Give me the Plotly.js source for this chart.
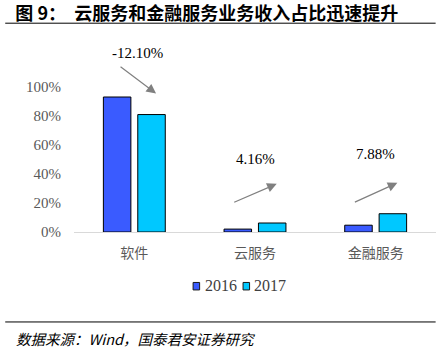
<!DOCTYPE html>
<html>
<head>
<meta charset="utf-8">
<script src="https://cdn.plot.ly/plotly-3.0.1.min.js"></script>
<style>html,body{margin:0;padding:0;background:#fff;}#chart{width:439px;height:355px;}</style>
</head>
<body>
<div id="chart"></div>
<script>
const categories = ['软件', '云服务', '金融服务'];
const series2016 = [93.1, 2.0, 4.7];
const series2017 = [81.0, 6.2, 12.6];
const seriesNames = ['2016', '2017'];
const seriesColors = ['#3A5BFF', '#00C8FF'];
const changeLabels = ['-12.10%', '4.16%', '7.88%'];
const yTicks = [0, 20, 40, 60, 80, 100];

const serif = '"Liberation Serif", "Noto Sans CJK SC", serif';
const cjk = '"Noto Sans CJK SC", sans-serif';

const traces = [
  {type: 'bar', name: seriesNames[0], x: categories, y: series2016, showlegend: false,
   marker: {color: seriesColors[0], line: {color: '#000000', width: 1}}},
  {type: 'bar', name: seriesNames[1], x: categories, y: series2017, showlegend: false,
   marker: {color: seriesColors[1], line: {color: '#000000', width: 1}}}
];

// arrows: head position (category index offset, y value), tail pixel offset
const arrowHeads = [[0.18, 95.5, -37, -28], [1.18, 33.2, -44, 19], [2.18, 33.9, -44, 20]];
// label positions: category offset, paper y
const labelPos = [[0.03, 1.03], [1.0, 0.42], [2.0, 0.447]];

const annotations = [];
arrowHeads.forEach((a, i) => {
  annotations.push({x: a[0], y: a[1], xref: 'x', yref: 'y', ax: a[2], ay: a[3],
    showarrow: true, arrowhead: 2, arrowsize: 1.6, arrowwidth: 1.2, arrowcolor: '#808080', text: ''});
  annotations.push({x: labelPos[i][0], y: labelPos[i][1], xref: 'x', yref: 'paper', xanchor: 'center', yanchor: 'middle',
    showarrow: false, text: changeLabels[i], font: {family: serif, size: 15, color: '#000000'}});
});
annotations.push({xref: 'paper', yref: 'paper', x: -0.166, y: -0.61, xanchor: 'left', yanchor: 'middle',
  showarrow: false, text: '<i>数据来源：Wind，国泰君安证券研究</i>',
  font: {family: '"Noto Sans CJK SC", "Liberation Serif", serif', size: 14.5, color: '#000000'}});

// manual legend (paper coords)
const legendSquares = [[0.329, 0.347], [0.467, 0.485]];
const legendY = [-0.333, -0.290];
const shapes = [
  {type: 'line', xref: 'paper', yref: 'paper', x0: -0.19, x1: 0.999, y0: 1.2, y1: 1.2, line: {color: '#000000', width: 1}},
  {type: 'line', xref: 'paper', yref: 'paper', x0: -0.19, x1: 0.999, y0: -0.517, y1: -0.517, line: {color: '#000000', width: 1}}
];
seriesNames.forEach((n, i) => {
  shapes.push({type: 'rect', xref: 'paper', yref: 'paper', x0: legendSquares[i][0], x1: legendSquares[i][1],
    y0: legendY[0], y1: legendY[1], fillcolor: seriesColors[i], line: {color: '#1a1a1a', width: 1}});
  annotations.push({xref: 'paper', yref: 'paper', x: legendSquares[i][1] + 0.008, y: -0.31, xanchor: 'left', yanchor: 'middle',
    showarrow: false, text: n, font: {family: serif, size: 16, color: '#404040'}});
});

const layout = {
  width: 439, height: 355,
  margin: {l: 74, r: 3, t: 58, b: 123},
  paper_bgcolor: '#ffffff', plot_bgcolor: '#ffffff',
  title: {text: '<b>图 9：  云服务和金融服务业务收入占比迅速提升</b>', x: 0.035, xanchor: 'left', y: 0.962, yanchor: 'middle',
    xref: 'container', yref: 'container',
    font: {family: cjk, size: 18, color: '#000000'}},
  barmode: 'group', bargap: 0.43, bargroupgap: 0.2,
  showlegend: false,
  xaxis: {type: 'category', showline: true, linecolor: '#d9d9d9', linewidth: 1, ticks: '',
    showgrid: false, zeroline: false, ticklabelstandoff: 8,
    tickfont: {family: cjk, size: 14, color: '#595959'}},
  yaxis: {range: [0, 120], tickvals: yTicks, ticktext: yTicks.map(v => v + '%'), showline: false,
    showgrid: false, zeroline: false, ticks: '', ticklabelstandoff: 12,
    tickfont: {family: serif, size: 15, color: '#595959'}},
  shapes: shapes,
  annotations: annotations
};

Plotly.newPlot('chart', traces, layout, {staticPlot: true, displayModeBar: false});
</script>
</body>
</html>
